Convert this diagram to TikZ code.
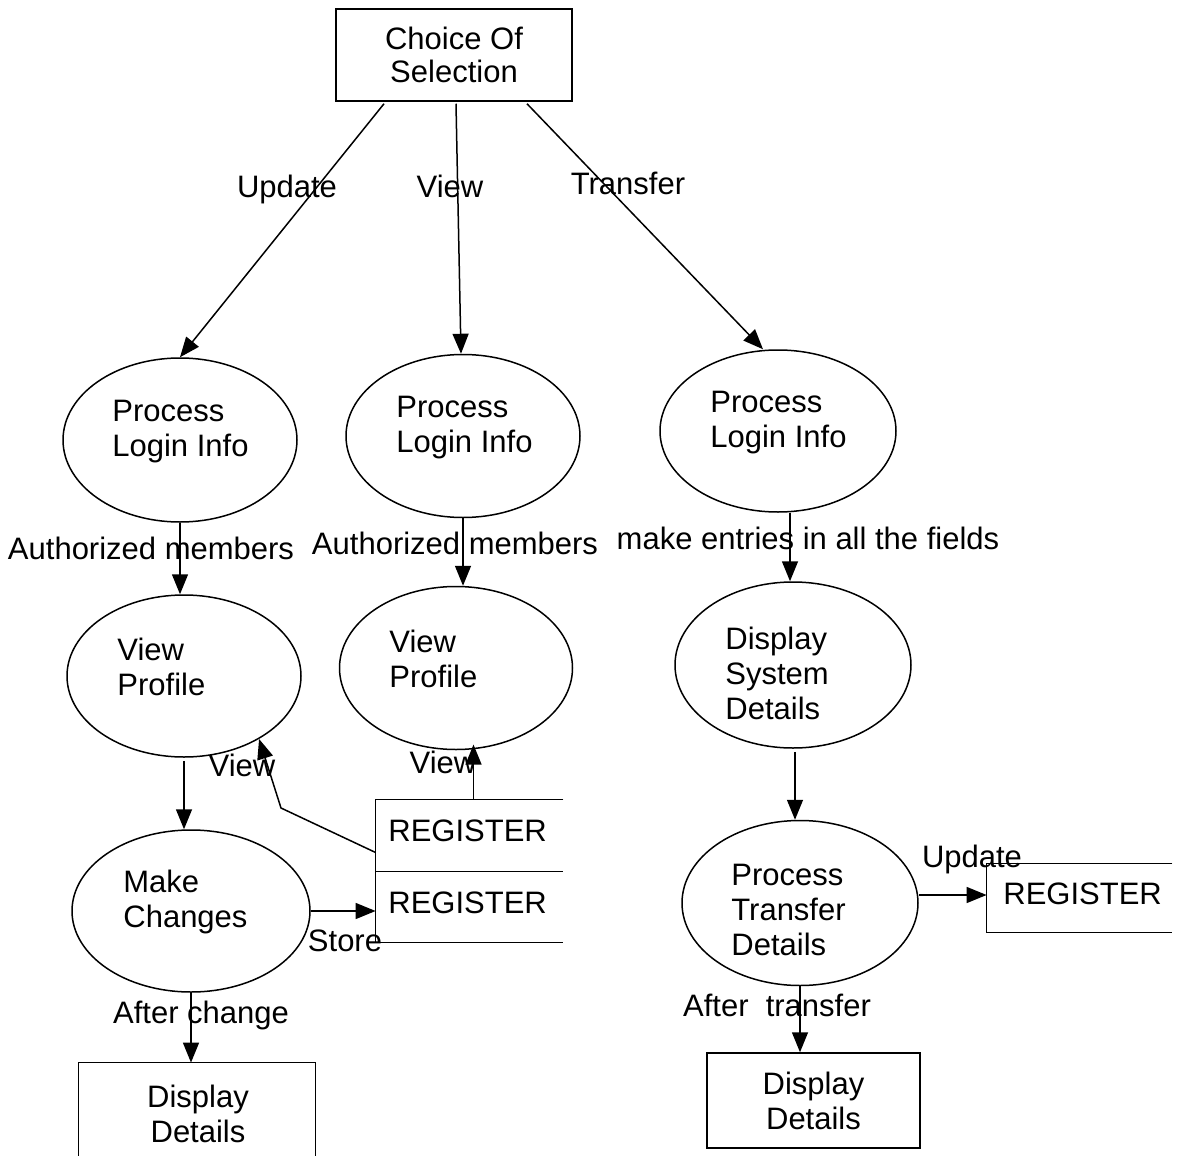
\documentclass[tikz,border=0pt]{standalone}
\usepackage{fontspec}
\setmainfont{Liberation Sans}
\usetikzlibrary{shapes.geometric,arrows.meta,calc}
\tikzset{
  txt/.style={inner sep=0pt, font=\fontsize{15.5}{17.5}\selectfont},
  ltxt/.style={txt, anchor=west, align=left},
  proc/.style={draw, ellipse, fill=white, inner sep=0pt, line width=0.75pt},
  box/.style={draw, rectangle, fill=white, inner sep=0pt, line width=0.75pt},
  store/.style={rectangle, inner sep=0pt},
  arr/.style={line width=0.75pt, -{Triangle[length=10pt,width=8pt]}},
  ln/.style={line width=0.75pt}
}
\begin{document}
\begin{tikzpicture}[x=0.5pt,y=-0.5pt]
\useasboundingbox[fill=white] (0,0) rectangle (1179,1156);

% edge labels (drawn first, shapes may overlap them)
\node[txt] (lupd) at (287,189) {Update};
\node[txt] (lview) at (450,186) {View};
\node[txt] (ltr) at (628,183) {Transfer};
\node[txt] (lam1) at (151,548) {Authorized members};
\node[txt] (lam2) at (455,543) {Authorized members};
\node[txt] (lme) at (808,538) {make entries in all the fields};
\node[txt] (lv1) at (242,765) {View};
\node[txt] (lv2) at (443,762) {View};
\node[txt] (lst) at (345,941) {Store};
\node[txt] (lac) at (201,1015) {After change};
\node[txt] (lup2) at (972,859) {Update};
\node[txt] (lat) at (777,1005) {After\ \ transfer};

% shapes
\node[box, minimum width=118pt, minimum height=46pt, align=center, font=\fontsize{15.5}{16.5}\selectfont] (choice) at (454,55) {Choice Of\\Selection};

\node[proc, minimum width=117pt, minimum height=82pt] (e1) at (180,440) {};
\node[proc, minimum width=117pt, minimum height=81.5pt] (e2) at (463,436) {};
\node[proc, minimum width=118pt, minimum height=81pt] (e3) at (778,431) {};
\node[proc, minimum width=117pt, minimum height=81pt] (vp1) at (184,676) {};
\node[proc, minimum width=116.5pt, minimum height=81.5pt] (vp2) at (456,668) {};
\node[proc, minimum width=118pt, minimum height=83pt] (dsd) at (793,665) {};
\node[proc, minimum width=119pt, minimum height=81pt] (mc) at (191,911) {};
\node[proc, minimum width=118pt, minimum height=82.5pt] (ptd) at (800,903) {};

\node[ltxt] (te1) at (112,432) {Process\\Login Info};
\node[ltxt] (te2) at (396,428) {Process\\Login Info};
\node[ltxt] (te3) at (710,423) {Process\\Login Info};
\node[ltxt] (tvp1) at (117,667) {View\\Profile};
\node[ltxt] (tvp2) at (389,659) {View\\Profile};
\node[ltxt] (tdsd) at (725,673) {Display\\System\\Details};
\node[ltxt] (tmc) at (123,902) {Make\\Changes};
\node[ltxt] (tptd) at (731,910) {Process\\Transfer\\Details};

% display boxes
\node[store, minimum width=118pt, minimum height=47pt] (dd1) at (197,1110) {};
\draw[ln] (dd1.south west) -- (dd1.north west) -- (dd1.north east) -- (dd1.south east);
\node[txt, align=center] (tdd1) at (198,1114) {Display\\Details};
\node[box, minimum width=106.5pt, minimum height=47.5pt, align=center, font=\fontsize{15.5}{17.5}\selectfont] (dd2) at (813.5,1100.5) {Display\\Details};

% data stores
\node[store, minimum width=93.5pt, minimum height=35.5pt] (reg1) at (469.5,835.5) {};
\node[store, minimum width=93.5pt, minimum height=35.5pt] (reg2) at (469.5,906.5) {};
\draw[ln] (reg1.north east) -- (reg1.north west) -- (reg2.south west) -- (reg2.south east);
\draw[ln] (reg1.south west) -- (reg1.south east);
\node[ltxt] (treg1) at (388,831) {REGISTER};
\node[ltxt] (treg2) at (388,903) {REGISTER};

\node[store, minimum width=92.5pt, minimum height=34pt] (reg3) at (1079.5,898) {};
\draw[ln] (reg3.north east) -- (reg3.north west) -- (reg3.south west) -- (reg3.south east);
\node[ltxt] (treg3) at (1003,894) {REGISTER};

% connector anchor points
\coordinate (c1) at ($(choice.south)+(-70,2)$);
\coordinate (c2) at ($(choice.south)+(2,2)$);
\coordinate (c3) at ($(choice.south)+(73,2)$);
\coordinate (t2) at ($(e2.north)+(-2,0)$);
\coordinate (t3) at ($(e3.north)+(-15,0)$);
\coordinate (s3) at ($(e3.south)+(12,0)$);
\coordinate (svp1) at ($(vp1.south)+(0,3)$);
\coordinate (sdsd) at ($(dsd.south)+(2,3)$);
\coordinate (sreg) at ($(reg1.west)+(0,17)$);
\coordinate (bend1) at (281,808);
\coordinate (nreg) at ($(reg1.north)+(4,0)$);
\coordinate (treg) at ($(reg1.north)+(4,-55)$);
\coordinate (eptd) at ($(ptd.east)+(0,-8)$);

% connectors
\draw[arr] (c1) -- (e1.north);
\draw[arr] (c2) -- (t2);
\draw[arr] (c3) -- (t3);

\draw[arr] (e1.south) -- (e1.south |- vp1.north);
\draw[arr] (e2.south) -- (e2.south |- vp2.north);
\draw[arr] (s3) -- (s3 |- dsd.north);

\draw[arr] (svp1) -- (svp1 |- mc.north);
\draw[arr] (sdsd) -- (sdsd |- ptd.north);

\draw[arr] (sreg) -- (bend1) -- (vp1.-40);
\draw[arr] (nreg) -- (treg);

\draw[arr] (mc.east) -- (mc.east -| reg2.west);
\draw[arr] (mc.south) -- (mc.south |- dd1.north);

\draw[arr] (eptd) -- (eptd -| reg3.west);
\draw[arr] (ptd.south) -- (ptd.south |- dd2.north);
\end{tikzpicture}
\end{document}
